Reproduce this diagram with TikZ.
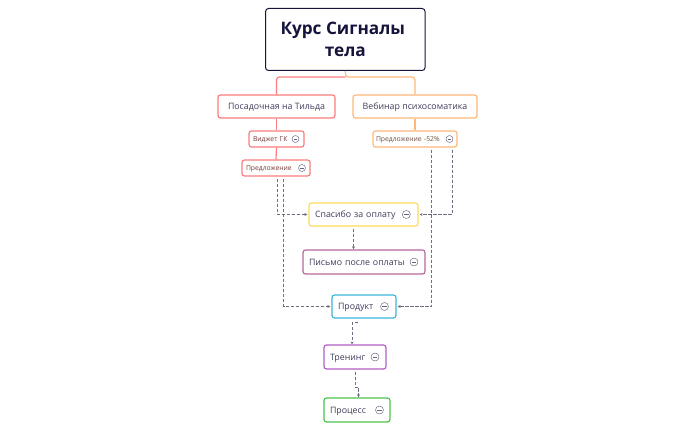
\documentclass[tikz,border=0pt]{standalone}
\usepackage{fontspec}
\setmainfont{Open Sans}
\usetikzlibrary{arrows.meta,calc}
\definecolor{inkc}{HTML}{3F3D5C}
\definecolor{rootc}{HTML}{14143C}
\definecolor{redc}{HTML}{FB7C7C}
\definecolor{orc}{HTML}{FDB878}
\definecolor{yelc}{HTML}{FCDB55}
\definecolor{plumc}{HTML}{B8689A}
\definecolor{bluec}{HTML}{3DB6DA}
\definecolor{purc}{HTML}{B25FC6}
\definecolor{grnc}{HTML}{4DC24D}
\definecolor{dashc}{HTML}{6E6E80}
\definecolor{redt}{HTML}{7A3A3A}
\definecolor{ort}{HTML}{6E5040}
\tikzset{
  x=1pt,y=-1pt,
  box/.style={draw=#1,line width=1.2pt,rounded corners=2.5pt,fill=white,inner sep=0pt,
    font=\fontsize{8.8}{10}\selectfont,text=inkc,align=left,anchor=center,
    text height=7.5pt,text depth=1pt},
  smallbox/.style={box=#1,font=\fontsize{6.8}{8}\selectfont,text height=5.8pt,text depth=.8pt},
  rootbox/.style={draw=rootc,line width=1pt,rounded corners=3pt,fill=white,inner sep=0pt,
    font=\fontsize{17.2}{22}\selectfont\bfseries,text=rootc,align=center},
  tree/.style={draw=#1,line width=1.2pt,rounded corners=3pt},
  link/.style={draw=dashc,line width=.6pt,dash pattern=on 3.5pt off 1.5pt,
    -{Stealth[length=3pt,width=2.8pt]}},
  iconc/.style={draw=inkc!80,line width=.45pt,circle,inner sep=0pt,minimum size=#1,fill=white,
    path picture={\draw[inkc!80,line width=.4pt] (path picture bounding box.west) ++(1.8,0) -- ++(#1-3.6,0);}},
}
\begin{document}
\begin{tikzpicture}
\useasboundingbox (0,0) rectangle (694,430);
% connector junction
\coordinate (fork) at (345.5,77);
% boxes
\node[rootbox,minimum width=159.5,minimum height=62] (root) at (345.3,39.5) {\hspace{-5pt}Курс Сигналы\\тела};
\node[box=redc,minimum width=117,minimum height=23,align=center] (pos) at (276.5,106.5) {Посадочная на Тильда};
\node[box=orc,minimum width=124,minimum height=23,align=center] (veb) at (415,106.5) {Вебинар психосоматика};
\node[smallbox=redc,text=redt,minimum width=55,minimum height=16,text width=47,inner xsep=4] (vid) at (276.5,139) {Виджет ГК};
\node[smallbox=redc,text=redt,minimum width=68,minimum height=16,text width=60,inner xsep=4] (pre) at (276,168) {Предложение};
\node[smallbox=orc,text=ort,minimum width=84,minimum height=16,text width=80,inner xsep=2] (off) at (415,139) {\hspace{1pt}Предложение -52\%};
\node[box=yelc,minimum width=109,minimum height=23,text width=97,inner xsep=6] (tha) at (363.5,214.5) {Спасибо за оплату};
\node[box=plumc,minimum width=122,minimum height=24,text width=110,inner xsep=6] (let) at (364,262) {Письмо после оплаты};
\node[box=bluec,minimum width=64,minimum height=23,text width=52,inner xsep=6] (pro) at (364,306.5) {Продукт};
\node[box=purc,minimum width=62,minimum height=24,text width=50,inner xsep=6] (tre) at (355,357) {Тренинг};
\node[box=grnc,minimum width=66,minimum height=24,text width=54,inner xsep=6] (prc) at (357,410) {Процесс};
% icons
\node[iconc=7] (i1) at (295.5,139) {};
\node[iconc=7] (i2) at (302,168) {};
\node[iconc=7] (i3) at (449.5,139) {};
\node[iconc=8] (i4) at (406.3,214.5) {};
\node[iconc=8] (i5) at (414,262) {};
\node[iconc=8] (i6) at (384.5,306.5) {};
\node[iconc=8] (i7) at (375,357) {};
\node[iconc=8] (i8) at (379.5,410) {};
% tree connectors
\draw[tree=orc] (root.south) -- (fork) -| (veb.north);
\draw[tree=redc] (fork) -| (pos.north);
\draw[tree=redc] (pos.south) -- (vid.north);
\draw[tree=redc] (vid.south) -- (pre.north);
\draw[tree=orc] (veb.south) -- (off.north);
% dashed links
\coordinate (a1) at ([xshift=1.5pt,yshift=-2pt]pre.south);
\coordinate (a2) at ([xshift=7.5pt,yshift=-2pt]pre.south);
\coordinate (b1) at ([xshift=16.7pt,yshift=-2pt]off.south);
\coordinate (b2) at ([xshift=37pt,yshift=-2pt]off.south);
\draw[link] (a1) |- ([xshift=-1pt]tha.west);
\draw[link] (a2) |- ([xshift=-1pt]pro.west);
\draw[link] (b1) |- ([xshift=1pt]pro.east);
\draw[link] (b2) |- ([xshift=1pt]tha.east);
\draw[link] ([xshift=-10pt,yshift=-2pt]tha.south) -- ([xshift=-10pt]tha.south |- let.north);
\coordinate (c1) at ([xshift=-6pt,yshift=-4pt]pro.south);
\draw[link] (c1) -- ++(-6,0) -- ([xshift=-3pt]tre.north);
\coordinate (d1) at ([yshift=-2pt]tre.south);
\draw[link] (d1) -- ++(0,16) -- ++(3.5,0) -- ([xshift=1.5pt]prc.north);
\end{tikzpicture}
\end{document}
